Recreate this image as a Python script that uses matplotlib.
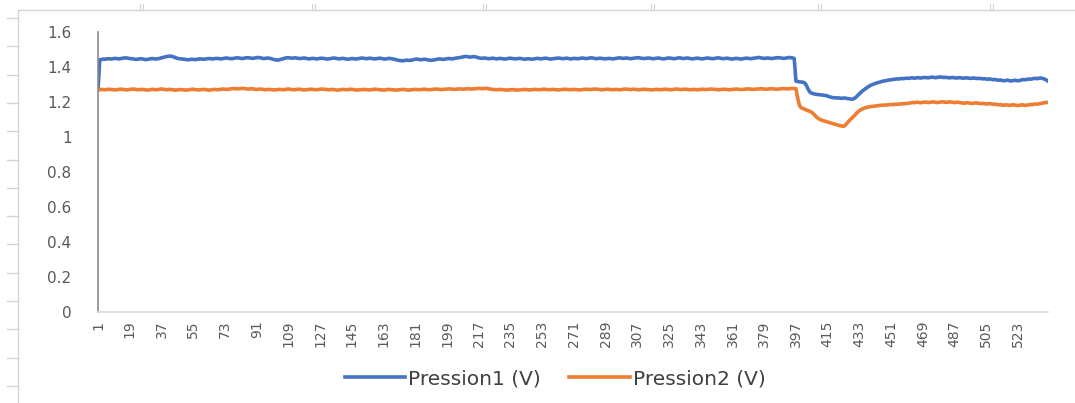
import matplotlib
matplotlib.use("Agg")
import matplotlib.pyplot as plt
from matplotlib.lines import Line2D
import numpy as np

# Pressure sensor readings, one value per sample (samples 1..540)
pression1 = [
    1.270, 1.440, 1.442, 1.444, 1.443, 1.445, 1.446, 1.444, 1.445, 1.447, 1.448, 1.446, 1.445, 1.447, 1.449, 1.450, 1.451, 1.449, 1.447, 1.446,
    1.445, 1.443, 1.442, 1.444, 1.446, 1.445, 1.443, 1.441, 1.442, 1.444, 1.446, 1.447, 1.445, 1.444, 1.446, 1.448, 1.451, 1.453, 1.456, 1.458,
    1.460, 1.461, 1.459, 1.456, 1.452, 1.448, 1.446, 1.445, 1.444, 1.443, 1.441, 1.440, 1.441, 1.443, 1.442, 1.441, 1.442, 1.444, 1.445, 1.444,
    1.443, 1.444, 1.446, 1.447, 1.446, 1.445, 1.446, 1.448, 1.447, 1.446, 1.445, 1.447, 1.449, 1.450, 1.448, 1.447, 1.446, 1.448, 1.450, 1.451,
    1.450, 1.448, 1.447, 1.449, 1.451, 1.452, 1.450, 1.449, 1.448, 1.450, 1.452, 1.453, 1.451, 1.449, 1.447, 1.448, 1.450, 1.449, 1.447, 1.444,
    1.441, 1.439, 1.438, 1.440, 1.443, 1.446, 1.449, 1.451, 1.452, 1.450, 1.449, 1.450, 1.451, 1.449, 1.448, 1.447, 1.449, 1.450, 1.448, 1.446,
    1.445, 1.447, 1.448, 1.446, 1.445, 1.446, 1.448, 1.449, 1.447, 1.446, 1.444, 1.445, 1.447, 1.449, 1.450, 1.448, 1.446, 1.445, 1.447, 1.448,
    1.446, 1.444, 1.443, 1.445, 1.447, 1.446, 1.444, 1.445, 1.447, 1.449, 1.450, 1.448, 1.446, 1.447, 1.449, 1.448, 1.446, 1.445, 1.446, 1.448,
    1.449, 1.447, 1.445, 1.444, 1.446, 1.448, 1.447, 1.445, 1.443, 1.441, 1.438, 1.436, 1.435, 1.434, 1.436, 1.438, 1.437, 1.436, 1.438, 1.441,
    1.443, 1.444, 1.442, 1.440, 1.441, 1.443, 1.442, 1.440, 1.438, 1.437, 1.438, 1.440, 1.442, 1.444, 1.445, 1.443, 1.442, 1.444, 1.446, 1.447,
    1.446, 1.445, 1.447, 1.449, 1.451, 1.452, 1.454, 1.456, 1.458, 1.459, 1.457, 1.455, 1.456, 1.458, 1.457, 1.454, 1.451, 1.449, 1.448, 1.450,
    1.449, 1.447, 1.446, 1.448, 1.449, 1.447, 1.445, 1.446, 1.448, 1.447, 1.445, 1.444, 1.446, 1.448, 1.449, 1.447, 1.446, 1.445, 1.446, 1.448,
    1.447, 1.445, 1.443, 1.444, 1.446, 1.445, 1.443, 1.444, 1.446, 1.448, 1.447, 1.445, 1.446, 1.448, 1.449, 1.447, 1.445, 1.444, 1.446, 1.447,
    1.448, 1.450, 1.449, 1.447, 1.446, 1.448, 1.449, 1.447, 1.445, 1.446, 1.448, 1.447, 1.446, 1.447, 1.449, 1.450, 1.448, 1.447, 1.448, 1.450,
    1.451, 1.449, 1.447, 1.446, 1.448, 1.449, 1.447, 1.446, 1.445, 1.447, 1.448, 1.446, 1.445, 1.446, 1.448, 1.450, 1.451, 1.449, 1.448, 1.449,
    1.450, 1.448, 1.446, 1.447, 1.449, 1.450, 1.452, 1.451, 1.449, 1.448, 1.447, 1.448, 1.450, 1.449, 1.447, 1.446, 1.447, 1.449, 1.450, 1.448,
    1.446, 1.445, 1.447, 1.449, 1.450, 1.449, 1.447, 1.446, 1.448, 1.450, 1.451, 1.449, 1.447, 1.448, 1.450, 1.449, 1.447, 1.445, 1.446, 1.448,
    1.449, 1.448, 1.446, 1.445, 1.447, 1.449, 1.450, 1.448, 1.447, 1.446, 1.448, 1.450, 1.451, 1.449, 1.447, 1.446, 1.448, 1.449, 1.447, 1.445,
    1.444, 1.446, 1.448, 1.447, 1.445, 1.444, 1.446, 1.448, 1.449, 1.448, 1.446, 1.447, 1.449, 1.450, 1.452, 1.453, 1.451, 1.449, 1.448, 1.449,
    1.450, 1.449, 1.447, 1.448, 1.450, 1.451, 1.452, 1.451, 1.449, 1.448, 1.449, 1.451, 1.453, 1.452, 1.450, 1.448,
    1.318, 1.316, 1.314, 1.313,
    1.312, 1.308, 1.292, 1.270, 1.255, 1.249, 1.246, 1.244, 1.242, 1.241, 1.240, 1.239, 1.237, 1.236, 1.233, 1.229, 1.226, 1.224, 1.223, 1.222,
    1.223, 1.221, 1.220, 1.222, 1.221, 1.219, 1.218, 1.216, 1.215, 1.219, 1.226, 1.236, 1.246, 1.256, 1.264, 1.272, 1.279, 1.286, 1.292, 1.297,
    1.301, 1.305, 1.308, 1.311, 1.314, 1.317, 1.319, 1.321, 1.323, 1.325, 1.326, 1.328, 1.329, 1.331, 1.330, 1.332, 1.333, 1.332, 1.334, 1.335,
    1.334, 1.336, 1.337, 1.335, 1.336, 1.338, 1.337, 1.336, 1.338, 1.339, 1.338, 1.337, 1.339, 1.341, 1.340, 1.338, 1.339, 1.341, 1.342, 1.340,
    1.339, 1.340, 1.338, 1.337, 1.338, 1.339, 1.337, 1.336, 1.337, 1.338, 1.336, 1.335, 1.336, 1.337, 1.335, 1.334, 1.335, 1.336, 1.334, 1.333,
    1.334, 1.333, 1.331, 1.332, 1.330, 1.329, 1.331, 1.328, 1.326, 1.328, 1.325, 1.323, 1.325, 1.322, 1.320, 1.322, 1.324, 1.321, 1.319, 1.321,
    1.323, 1.322, 1.320, 1.322, 1.325, 1.327, 1.326, 1.328, 1.330, 1.329, 1.331, 1.333, 1.334, 1.332, 1.335, 1.336, 1.333, 1.330, 1.325, 1.318,
]

pression2 = [
    1.268, 1.270, 1.271, 1.270, 1.269, 1.270, 1.272, 1.271, 1.270, 1.269, 1.268, 1.270, 1.271, 1.272, 1.271, 1.270, 1.268, 1.269, 1.271, 1.272,
    1.273, 1.272, 1.270, 1.269, 1.270, 1.271, 1.270, 1.268, 1.267, 1.268, 1.270, 1.271, 1.270, 1.269, 1.270, 1.272, 1.273, 1.272, 1.270, 1.269,
    1.270, 1.271, 1.270, 1.268, 1.267, 1.268, 1.269, 1.270, 1.269, 1.268, 1.267, 1.268, 1.270, 1.271, 1.272, 1.270, 1.269, 1.268, 1.269, 1.270,
    1.271, 1.270, 1.268, 1.267, 1.268, 1.270, 1.271, 1.270, 1.269, 1.270, 1.272, 1.273, 1.272, 1.271, 1.272, 1.274, 1.275, 1.276, 1.275, 1.274,
    1.275, 1.276, 1.277, 1.276, 1.274, 1.273, 1.274, 1.275, 1.274, 1.272, 1.271, 1.272, 1.273, 1.272, 1.270, 1.269, 1.270, 1.271, 1.270, 1.269,
    1.268, 1.269, 1.270, 1.271, 1.270, 1.269, 1.270, 1.272, 1.273, 1.272, 1.270, 1.269, 1.270, 1.271, 1.272, 1.271, 1.269, 1.268, 1.269, 1.270,
    1.271, 1.272, 1.271, 1.270, 1.269, 1.270, 1.272, 1.273, 1.272, 1.271, 1.270, 1.269, 1.270, 1.271, 1.270, 1.268, 1.267, 1.268, 1.270, 1.271,
    1.270, 1.269, 1.270, 1.272, 1.271, 1.270, 1.268, 1.267, 1.268, 1.269, 1.270, 1.271, 1.270, 1.269, 1.268, 1.269, 1.271, 1.272, 1.271, 1.270,
    1.269, 1.268, 1.267, 1.268, 1.270, 1.271, 1.270, 1.269, 1.268, 1.267, 1.268, 1.269, 1.270, 1.271, 1.270, 1.268, 1.267, 1.268, 1.269, 1.270,
    1.271, 1.270, 1.269, 1.270, 1.271, 1.272, 1.271, 1.270, 1.269, 1.270, 1.271, 1.272, 1.273, 1.272, 1.271, 1.270, 1.271, 1.272, 1.273, 1.274,
    1.273, 1.272, 1.271, 1.272, 1.273, 1.274, 1.273, 1.272, 1.273, 1.274, 1.275, 1.274, 1.273, 1.274, 1.275, 1.276, 1.277, 1.276, 1.275, 1.276,
    1.277, 1.276, 1.274, 1.272, 1.271, 1.270, 1.269, 1.270, 1.271, 1.270, 1.269, 1.268, 1.267, 1.268, 1.269, 1.270, 1.269, 1.268, 1.267, 1.268,
    1.269, 1.270, 1.271, 1.270, 1.269, 1.268, 1.269, 1.270, 1.271, 1.270, 1.269, 1.270, 1.271, 1.272, 1.271, 1.270, 1.269, 1.270, 1.271, 1.270,
    1.269, 1.268, 1.269, 1.270, 1.271, 1.272, 1.271, 1.270, 1.269, 1.270, 1.271, 1.270, 1.269, 1.268, 1.269, 1.270, 1.271, 1.272, 1.271, 1.270,
    1.271, 1.272, 1.273, 1.272, 1.271, 1.270, 1.269, 1.270, 1.271, 1.272, 1.271, 1.270, 1.269, 1.270, 1.271, 1.270, 1.269, 1.270, 1.272, 1.273,
    1.272, 1.271, 1.270, 1.271, 1.272, 1.271, 1.270, 1.269, 1.270, 1.271, 1.272, 1.271, 1.270, 1.269, 1.268, 1.269, 1.270, 1.271, 1.270, 1.269,
    1.270, 1.271, 1.272, 1.271, 1.270, 1.269, 1.270, 1.272, 1.273, 1.272, 1.271, 1.270, 1.271, 1.272, 1.271, 1.270, 1.269, 1.270, 1.271, 1.270,
    1.269, 1.270, 1.271, 1.272, 1.271, 1.270, 1.271, 1.272, 1.273, 1.272, 1.271, 1.270, 1.269, 1.270, 1.271, 1.272, 1.271, 1.270, 1.269, 1.270,
    1.271, 1.272, 1.273, 1.272, 1.271, 1.270, 1.271, 1.272, 1.273, 1.274, 1.273, 1.272, 1.271, 1.272, 1.273, 1.274, 1.275, 1.274, 1.273, 1.272,
    1.273, 1.274, 1.275, 1.274, 1.273, 1.272, 1.273, 1.274, 1.275, 1.276, 1.275, 1.274, 1.275, 1.276, 1.277, 1.276, 1.275,
    1.220, 1.180, 1.166,
    1.162, 1.158, 1.153, 1.149, 1.146, 1.140, 1.131, 1.120, 1.110, 1.103, 1.098, 1.094, 1.091, 1.088, 1.085, 1.082, 1.079, 1.076, 1.073, 1.070,
    1.067, 1.064, 1.062, 1.060, 1.067, 1.078, 1.090, 1.101, 1.110, 1.120, 1.131, 1.142, 1.150, 1.156, 1.161, 1.165, 1.168, 1.170, 1.172, 1.174,
    1.175, 1.176, 1.178, 1.179, 1.180, 1.181, 1.182, 1.181, 1.183, 1.184, 1.185, 1.184, 1.186, 1.187, 1.186, 1.188, 1.189, 1.188, 1.190, 1.191,
    1.192, 1.194, 1.196, 1.195, 1.197, 1.198, 1.196, 1.195, 1.197, 1.199, 1.198, 1.196, 1.197, 1.199, 1.200, 1.198, 1.196, 1.197, 1.199, 1.200,
    1.199, 1.197, 1.198, 1.200, 1.199, 1.197, 1.196, 1.197, 1.198, 1.196, 1.194, 1.192, 1.193, 1.195, 1.194, 1.192, 1.191, 1.192, 1.194, 1.193,
    1.191, 1.190, 1.191, 1.189, 1.188, 1.189, 1.190, 1.188, 1.186, 1.187, 1.185, 1.183, 1.184, 1.182, 1.181, 1.183, 1.182, 1.180, 1.181, 1.183,
    1.182, 1.180, 1.179, 1.181, 1.183, 1.182, 1.180, 1.181, 1.183, 1.185, 1.184, 1.186, 1.188, 1.187, 1.189, 1.191, 1.193, 1.195, 1.196, 1.197,
]

samples = np.arange(1, len(pression1) + 1)
tick_samples = list(range(1, 524, 18))
y_ticks = [0, 0.2, 0.4, 0.6, 0.8, 1, 1.2, 1.4, 1.6]
y_labels = ["0", "0.2", "0.4", "0.6", "0.8", "1", "1.2", "1.4", "1.6"]

W, H = 1075, 403
fig = plt.figure(figsize=(W / 100, H / 100), dpi=100)
ax = fig.add_axes([98 / W, 1 - 312.3 / H, (1048 - 98) / W, (312.3 - 31.7) / H])

ax.plot(samples, pression1, color="#4472C4", lw=2.6, label="Pression1 (V)")
ax.plot(samples, pression2, color="#ED7D31", lw=2.6, label="Pression2 (V)")

ax.set_xlim(1, len(samples))
ax.set_ylim(0, 1.6)
ax.set_yticks(y_ticks)
ax.set_yticklabels(y_labels)
ax.set_xticks(tick_samples)
ax.set_xticklabels([str(t) for t in tick_samples], rotation=90)
ax.tick_params(axis="y", length=0, pad=19, labelsize=11, labelcolor="#595959")
ax.tick_params(axis="x", length=0, pad=6, labelsize=10, labelcolor="#595959")

for side in ["top", "right"]:
    ax.spines[side].set_visible(False)
ax.spines["left"].set_color("#8c8c8c")
ax.spines["left"].set_linewidth(1.2)
ax.spines["bottom"].set_color("#d9d9d9")
ax.spines["bottom"].set_linewidth(1.2)

fig.legend(loc="center", bbox_to_anchor=(555 / W, 1 - 379 / H), ncol=2,
           frameon=False, fontsize=14.5, handlelength=3.0, handletextpad=0.15,
           columnspacing=1.4, labelcolor="#404040")

# light frame with ruler marks around the chart area
frame = "#d4d4d4"
fig.add_artist(Line2D([18 / W, 18 / W], [0, 1 - 10 / H], transform=fig.transFigure, color=frame, lw=1))
fig.add_artist(Line2D([18 / W, 1], [1 - 10 / H, 1 - 10 / H], transform=fig.transFigure, color=frame, lw=1))
for yp in np.arange(18, H, 28.3):
    fig.add_artist(Line2D([7 / W, 18 / W], [1 - yp / H, 1 - yp / H], transform=fig.transFigure, color=frame, lw=1))
for xp in [140, 312, 483, 651, 818, 990]:
    for dx in (0, 2.5):
        fig.add_artist(Line2D([(xp + dx) / W, (xp + dx) / W], [1 - 4 / H, 1 - 10 / H],
                              transform=fig.transFigure, color=frame, lw=0.8))

fig.savefig("out.png", dpi=100)
